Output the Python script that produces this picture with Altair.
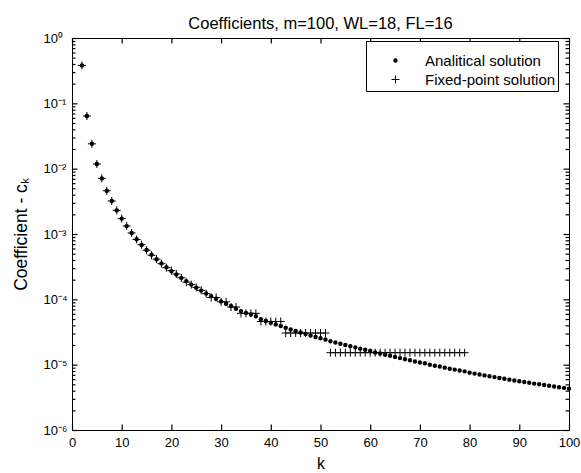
import altair as alt
import pandas as pd

# ---- data ----
k_analytic = list(range(2, 101))
c_analytic = [
    0.38, 0.064, 0.024, 0.0118, 0.0071, 0.0046, 0.0032, 0.0023,           # k=2..9
    0.00172, 0.00132, 0.00104, 0.00083, 0.00068, 0.00057, 0.00048, 0.00041, 0.000355, 0.00031,  # 10..19
    0.00027, 0.00024, 0.000213, 0.00019, 0.000168, 0.000151, 0.000136, 0.000123, 0.000112, 0.000102,  # 20..29
    9.3e-5, 8.55e-5, 7.9e-5, 7.2e-5, 6.6e-5, 6.2e-5, 5.85e-5, 5.5e-5, 4.95e-5, 4.65e-5,  # 30..39
    4.38e-5, 4.13e-5, 3.9e-5, 3.67e-5, 3.46e-5, 3.27e-5, 3.1e-5, 2.95e-5, 2.8e-5, 2.66e-5,  # 40..49
    2.54e-5, 2.42e-5, 2.28e-5, 2.18e-5, 2.09e-5, 2.0e-5, 1.92e-5, 1.84e-5, 1.76e-5, 1.69e-5,  # 50..59
    1.62e-5, 1.54e-5, 1.48e-5, 1.42e-5, 1.37e-5, 1.31e-5, 1.26e-5, 1.21e-5, 1.17e-5, 1.12e-5,  # 60..69
    1.08e-5, 1.05e-5, 1.0e-5, 9.6e-6, 9.4e-6, 9.0e-6, 8.65e-6, 8.4e-6, 8.14e-6, 7.9e-6,  # 70..79
    7.55e-6, 7.3e-6, 7.05e-6, 6.85e-6, 6.65e-6, 6.45e-6, 6.25e-6, 6.07e-6, 5.9e-6, 5.73e-6,  # 80..89
    5.57e-6, 5.42e-6, 5.27e-6, 5.13e-6, 5.0e-6, 4.87e-6, 4.75e-6, 4.63e-6, 4.52e-6, 4.41e-6,  # 90..99
    4.3e-6,  # 100
]

# fixed-point solution, read as counts of the LSB (2^-16, FL=16); k>=80 round to zero
k_fixed = list(range(2, 80))
lsb_fixed = [
    24904, 4194, 1573, 773, 465, 301, 210, 151,        # k=2..9
    113, 87, 68, 54, 45, 37, 31, 27, 23, 20,           # 10..19
    18, 16, 14, 12, 11, 10, 9, 8, 7, 7,                # 20..29
    6, 6, 5, 5, 4, 4, 4, 4, 3, 3,                      # 30..39
    3, 3, 3, 2, 2, 2, 2, 2, 2, 2,                      # 40..49
    2, 2, 1, 1, 1, 1, 1, 1, 1, 1,                      # 50..59
    1, 1, 1, 1, 1, 1, 1, 1, 1, 1,                      # 60..69
    1, 1, 1, 1, 1, 1, 1, 1, 1, 1,                      # 70..79
]
LSB = 2.0 ** -16

series_names = ["Analitical solution", "Fixed-point solution"]

rows = [{"k": k, "value": v, "series": series_names[0]} for k, v in zip(k_analytic, c_analytic)]
rows += [{"k": k, "value": n * LSB, "series": series_names[1]} for k, n in zip(k_fixed, lsb_fixed)]
df = pd.DataFrame(rows)

# tick positions
x_ticks = list(range(0, 101, 10))
y_major = [1e-6, 1e-5, 1e-4, 1e-3, 1e-2, 1e-1, 1.0]
y_minor = [a * 10.0 ** e for e in range(-6, 0) for a in range(2, 10)]
X_MIN, X_MAX = 0, 100
Y_MIN, Y_MAX = 1e-6, 1.0

FONT = "Liberation Sans"
W, H = 497, 392

xscale = alt.Scale(domain=[X_MIN, X_MAX], nice=False)
yscale = alt.Scale(type="log", domain=[Y_MIN, Y_MAX], nice=False)

label_expr = ("datum.value >= 0.5 ? '10⁰' : datum.value >= 0.05 ? '10⁻¹' : "
              "datum.value >= 0.005 ? '10⁻²' : datum.value >= 0.0005 ? '10⁻³' : "
              "datum.value >= 0.00005 ? '10⁻⁴' : datum.value >= 0.000005 ? '10⁻⁵' : '10⁻⁶'")

x_axis = alt.Axis(orient="bottom", values=x_ticks, ticks=False, tickSize=0, domain=False,
                  grid=False, labelFlush=False, labelFont=FONT, labelFontSize=13,
                  labelPadding=6, labelColor="black", title="k", titleFont=FONT,
                  titleFontSize=16, titleFontWeight="normal", titlePadding=6,
                  titleColor="black")
y_axis = alt.Axis(orient="left", values=y_major, ticks=False, tickSize=0, domain=False,
                  grid=False, labelFlush=False, labelExpr=label_expr, labelAlign="left",
                  labelPadding=29, labelFont=FONT, labelFontSize=13, labelColor="black",
                  title="Coefficient - cₖ", titleFont=FONT, titleFontSize=17.5,
                  titleFontWeight="normal", titlePadding=13, titleColor="black")

X = alt.X("k:Q", scale=xscale, axis=x_axis)
Y = alt.Y("value:Q", scale=yscale, axis=y_axis)

legend = alt.Legend(
    title=" ", titleFontSize=8, titlePadding=0,
    orient="none", legendX=294, legendY=3,
    labelFont=FONT, labelFontSize=15, labelColor="black",
    labelExpr="datum.label + '  '",
    padding=2, clipHeight=19, rowPadding=0,
    symbolOffset=20, labelOffset=22,
    strokeColor="black", fillColor="white",
    symbolStrokeColor="black", symbolOpacity=1,
)

main = alt.Chart(df).mark_point(filled=False, color="black", opacity=1).encode(
    x=X, y=Y,
    shape=alt.Shape("series:N",
                    scale=alt.Scale(domain=series_names, range=["circle", "M-1,0L1,0M0,-1L0,1"]),
                    legend=legend),
    size=alt.Size("series:N", scale=alt.Scale(domain=series_names, range=[5, 64]), legend=legend),
    strokeWidth=alt.StrokeWidth("series:N", scale=alt.Scale(domain=series_names, range=[2.2, 1]),
                                legend=legend),
    order=alt.Order("series:N"),
)


# inward tick marks, drawn as short stroked symbols anchored on the frame edges
def tick_layer(kvals, vvals, path, size, x_off=0.0, y_off=0.0):
    tdf = pd.DataFrame({"k": kvals, "value": vvals})
    return alt.Chart(tdf).mark_point(shape=path, size=size, filled=False, color="black",
                                     strokeWidth=1.2, opacity=1,
                                     xOffset=x_off, yOffset=y_off).encode(x=X, y=Y)


layers = [
    main,
    tick_layer([X_MIN] * len(y_major), y_major, "M0,0L2,0", 30, y_off=0.5),
    tick_layer([X_MIN] * len(y_minor), y_minor, "M0,0L2,0", 12, y_off=0.5),
    tick_layer([X_MAX] * len(y_major), y_major, "M0,0L-2,0", 30, y_off=0.5),
    tick_layer([X_MAX] * len(y_minor), y_minor, "M0,0L-2,0", 12, y_off=0.5),
    tick_layer(x_ticks, [Y_MIN] * len(x_ticks), "M0,0L0,-2", 30, x_off=0.5),
    tick_layer(x_ticks, [Y_MAX] * len(x_ticks), "M0,0L0,2", 30, x_off=0.5),
]

chart = alt.layer(*layers).properties(
    width=W, height=H,
    title=alt.TitleParams("Coefficients, m=100, WL=18, FL=16", font=FONT, fontSize=16.5,
                          fontWeight="normal", color="black", offset=4, dy=4, anchor="middle"),
    autosize=alt.AutoSizeParams(type="none"),
    padding={"left": 72, "top": 38, "right": 12, "bottom": 43},
    background="white",
).configure_view(stroke="black", strokeWidth=1)

chart.save("out.html", embed_options={"renderer": "svg", "actions": False})
